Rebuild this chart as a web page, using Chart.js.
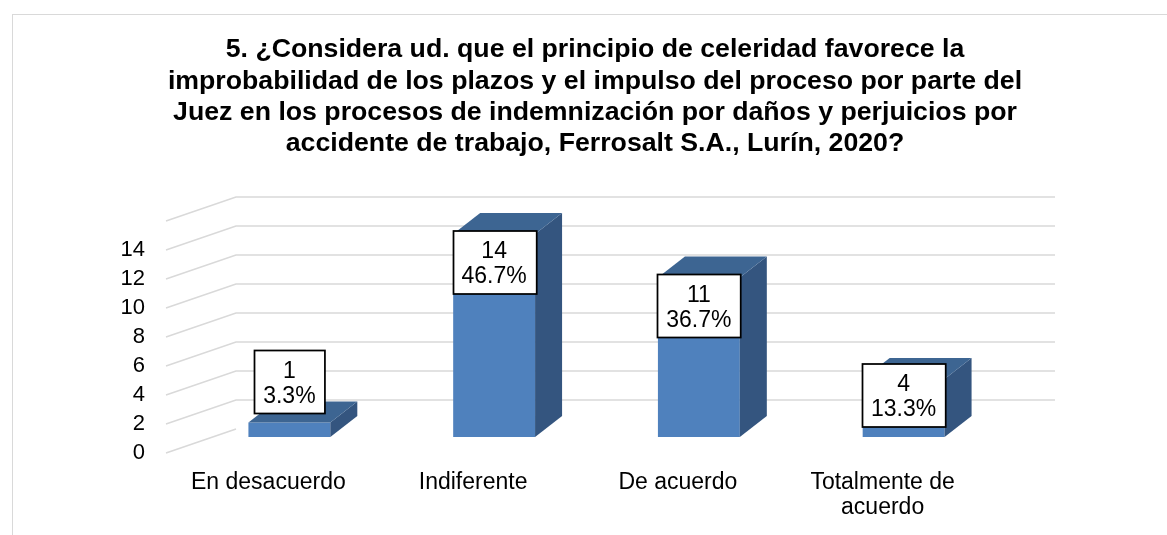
<!DOCTYPE html>
<html>
<head>
<meta charset="utf-8">
<script src="https://cdn.jsdelivr.net/npm/chart.js@4"></script>
<style>
	html, body { margin: 0; padding: 0; background: #fff; }
	#wrap { width: 1167px; height: 535px; }
</style>
</head>
<body>
<div id="wrap"><canvas id="chart" width="1167" height="535"></canvas></div>
<script>
const titleLines = [
	"5. ¿Considera ud. que el principio de celeridad favorece la",
	"improbabilidad de los plazos y el impulso del proceso por parte del",
	"Juez en los procesos de indemnización por daños y perjuicios por",
	"accidente de trabajo, Ferrosalt S.A., Lurín, 2020?",
];
const categories = [
	"En desacuerdo",
	"Indiferente",
	"De acuerdo",
	["Totalmente de", "acuerdo"],
];
const counts = [1, 14, 11, 4];
const yTicks = [0, 2, 4, 6, 8, 10, 12, 14];

const FONT = "'Liberation Sans', Arial, sans-serif";
const total = counts.reduce((a, b) => a + b, 0);

// fake 3D: bars sit a bit behind the front edge, walls further back
const BAR_SHIFT = { x: 21, y: -16 };
const BAR_DEPTH = { x: 27, y: -21 };
const WALL_DEPTH = { x: 70, y: -24 };
const WALL_RIGHT = 1055;

const fakeThreeD = {
	id: "fakeThreeD",
	beforeDraw(chart) {
		const ctx = chart.ctx;
		ctx.save();
		ctx.fillStyle = "#fff";
		ctx.fillRect(0, 0, chart.width, chart.height);
		ctx.strokeStyle = "#d9d9d9";
		ctx.lineWidth = 1;
		ctx.strokeRect(12.5, 14.5, 1300, 700);
		ctx.restore();
	},
	beforeDatasetsDraw(chart) {
		const ctx = chart.ctx;
		const y = chart.scales.y;
		const left = chart.chartArea.left;
		ctx.save();
		ctx.strokeStyle = "#d9d9d9";
		ctx.lineWidth = 1.5;
		y.ticks.forEach((t) => {
			const py = y.getPixelForValue(t.value);
			ctx.beginPath();
			ctx.moveTo(left, py);
			ctx.lineTo(left + WALL_DEPTH.x, py + WALL_DEPTH.y);
			if (t.value > 0) ctx.lineTo(WALL_RIGHT, py + WALL_DEPTH.y);
			ctx.stroke();
		});
		ctx.restore();
		ctx.save();
		ctx.translate(BAR_SHIFT.x, BAR_SHIFT.y);
	},
	afterDatasetsDraw(chart) {
		const ctx = chart.ctx;
		ctx.restore();
		const meta = chart.getDatasetMeta(0);
		ctx.save();
		meta.data.forEach((bar) => {
			const p = bar.getProps(["x", "y", "base", "width"], true);
			const L = p.x - p.width / 2 + BAR_SHIFT.x;
			const R = p.x + p.width / 2 + BAR_SHIFT.x;
			const T = p.y + BAR_SHIFT.y;
			const B = p.base + BAR_SHIFT.y;
			const dx = BAR_DEPTH.x, dy = BAR_DEPTH.y;
			// side
			ctx.fillStyle = "#34557f";
			ctx.beginPath();
			ctx.moveTo(R, T);
			ctx.lineTo(R + dx, T + dy);
			ctx.lineTo(R + dx, B + dy);
			ctx.lineTo(R, B);
			ctx.closePath();
			ctx.fill();
			// top
			ctx.fillStyle = "#3d6592";
			ctx.beginPath();
			ctx.moveTo(L, T);
			ctx.lineTo(L + dx, T + dy);
			ctx.lineTo(R + dx, T + dy);
			ctx.lineTo(R, T);
			ctx.closePath();
			ctx.fill();
		});

		// data label boxes
		ctx.font = "23px " + FONT;
		ctx.textAlign = "center";
		ctx.textBaseline = "middle";
		meta.data.forEach((bar, i) => {
			const p = bar.getProps(["x", "y", "base", "width"], true);
			const cx = p.x + BAR_SHIFT.x;
			const T = p.y + BAR_SHIFT.y;
			const B = p.base + BAR_SHIFT.y;
			const l1 = String(counts[i]);
			const l2 = (counts[i] / total * 100).toFixed(1) + "%";
			const w = Math.max(ctx.measureText(l1).width, ctx.measureText(l2).width) + 18;
			const h = 63;
			let top = T - 3;
			if (top + h > B - 10) {
				top = (B - T) >= h * 0.8 ? B - 10 - h : T - 9 - h;
			}
			const bx = Math.round(cx - w / 2) + 0.5;
			ctx.fillStyle = "#fff";
			ctx.fillRect(bx, top, w, h);
			ctx.strokeStyle = "#000";
			ctx.lineWidth = 1.75;
			ctx.strokeRect(bx, top, w, h);
			ctx.fillStyle = "#000";
			ctx.fillText(l1, cx, top + 21);
			ctx.fillText(l2, cx, top + 46);
		});

		// title
		ctx.font = "bold 26.7px " + FONT;
		titleLines.forEach((line, i) => {
			ctx.fillText(line, 595, 50 + i * 31.3);
		});
		ctx.restore();
	},
};

new Chart(document.getElementById("chart"), {
	type: "bar",
	data: {
		labels: categories,
		datasets: [
			{
				data: counts,
				backgroundColor: "#4f81bd",
				borderWidth: 0,
				categoryPercentage: 1,
				barPercentage: 0.4,
			},
		],
	},
	options: {
		responsive: false,
		animation: false,
		layout: { padding: { top: 221, left: 0, right: 182, bottom: 0 } },
		plugins: {
			legend: { display: false },
			tooltip: { enabled: false },
			title: { display: false },
		},
		scales: {
			x: {
				grid: { display: false, drawTicks: false },
				border: { display: false },
				ticks: {
					color: "#000",
					font: { family: FONT, size: 23, lineHeight: 1.1 },
					padding: 17,
					maxRotation: 0,
					autoSkip: false,
				},
				afterFit(scale) {
					scale.height = 82;
				},
			},
			y: {
				min: 0,
				max: 16,
				grid: { display: false, drawTicks: false },
				border: { display: false },
				afterBuildTicks(scale) {
					scale.ticks = yTicks.concat([16]).map((v) => ({ value: v }));
				},
				ticks: {
					color: "#000",
					font: { family: FONT, size: 22 },
					padding: 21,
					autoSkip: false,
					callback: (v) => (yTicks.includes(v) ? String(v) : ""),
				},
				afterFit(scale) {
					scale.width = 166;
				},
			},
		},
	},
	plugins: [fakeThreeD],
});
</script>
</body>
</html>
